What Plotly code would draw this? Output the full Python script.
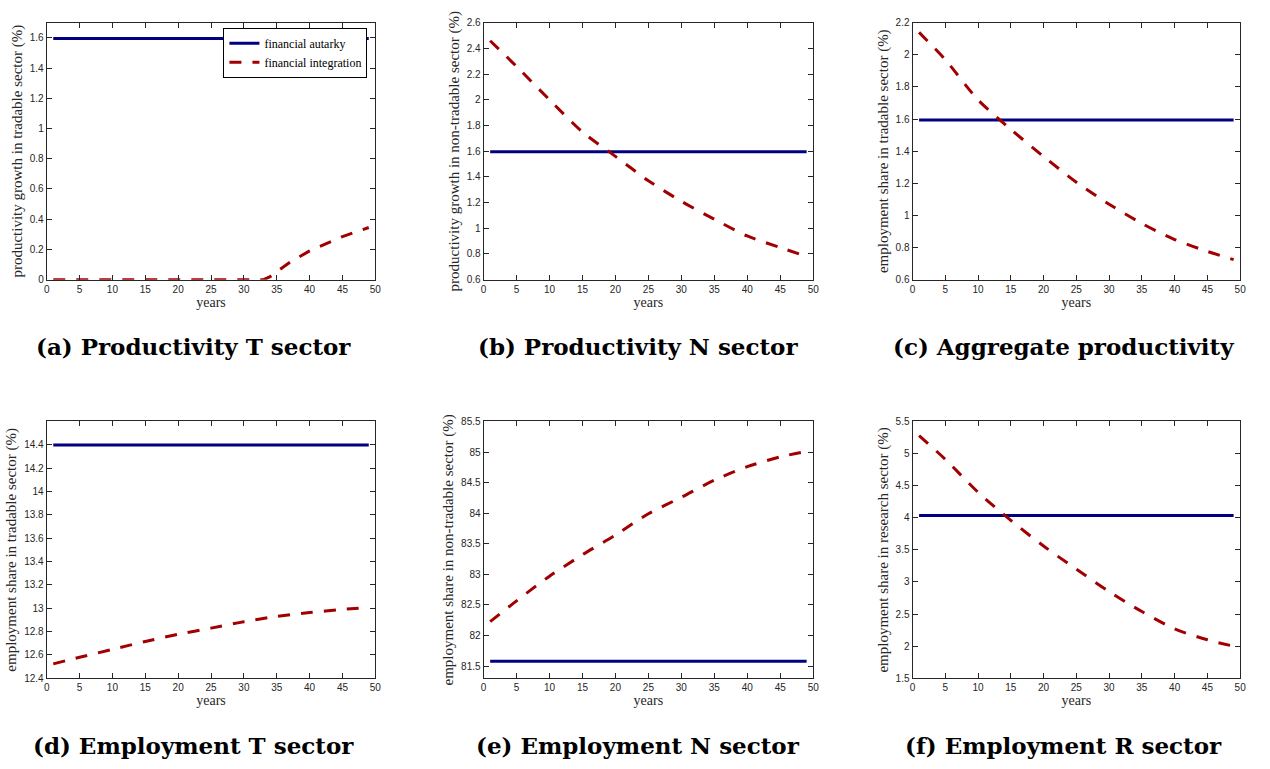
import plotly.graph_objects as go

W, H = 1270, 769

# ---------------- data ----------------
years_a = [1, 5, 10, 15, 20, 25, 30, 33, 34, 35, 37, 40, 43, 45, 47, 49]
integ_a = [0, 0, 0, 0, 0, 0, 0, 0, 0.02, 0.05, 0.115, 0.19, 0.25, 0.285, 0.315, 0.345]

years = [1, 5, 10, 15, 20, 25, 30, 35, 40, 45, 49]
integ_b = [2.46, 2.26, 2.00, 1.75, 1.56, 1.37, 1.21, 1.07, 0.94, 0.85, 0.78]
integ_c = [2.14, 1.97, 1.72, 1.536, 1.367, 1.207, 1.07, 0.95, 0.85, 0.776, 0.725]
integ_d = [12.524, 12.58, 12.648, 12.716, 12.777, 12.83, 12.885, 12.93, 12.963, 12.99, 13.006]
integ_e = [82.227, 82.566, 82.97, 83.32, 83.643, 83.99, 84.26, 84.54, 84.76, 84.92, 85.01]
integ_f = [5.28, 4.91, 4.397, 3.96, 3.56, 3.2, 2.85, 2.54, 2.27, 2.10, 2.0]

autarky_years = [1, 49]
autarky_a = 1.595
autarky_b = 1.595
autarky_c = 1.595
autarky_d = 14.397
autarky_e = 81.58
autarky_f = 4.035

ylabels = [
    "productivity growth in tradable sector (%)",
    "productivity growth in non-tradable sector (%)",
    "employment share in tradable sector (%)",
    "employment share in tradable sector (%)",
    "employment share in non-tradable sector (%)",
    "employment share in research sector (%)",
]
captions = [
    "(a) Productivity T sector",
    "(b) Productivity N sector",
    "(c) Aggregate productivity",
    "(d) Employment T sector",
    "(e) Employment N sector",
    "(f) Employment R sector",
]
yranges = [(0, 1.7), (0.6, 2.6), (0.6, 2.2), (12.4, 14.6), (81.3, 85.5), (1.5, 5.5)]
yticks = [
    [0, 0.2, 0.4, 0.6, 0.8, 1, 1.2, 1.4, 1.6],
    [0.6, 0.8, 1, 1.2, 1.4, 1.6, 1.8, 2, 2.2, 2.4, 2.6],
    [0.6, 0.8, 1, 1.2, 1.4, 1.6, 1.8, 2, 2.2],
    [12.4, 12.6, 12.8, 13, 13.2, 13.4, 13.6, 13.8, 14, 14.2, 14.4],
    [81.5, 82, 82.5, 83, 83.5, 84, 84.5, 85, 85.5],
    [1.5, 2, 2.5, 3, 3.5, 4, 4.5, 5, 5.5],
]
xticks = [0, 5, 10, 15, 20, 25, 30, 35, 40, 45, 50]

series_x = [years_a, years, years, years, years, years]
series_y = [integ_a, integ_b, integ_c, integ_d, integ_e, integ_f]
aut_vals = [autarky_a, autarky_b, autarky_c, autarky_d, autarky_e, autarky_f]
shapes_line = ["linear", "spline", "spline", "spline", "spline", "spline"]

# ---------------- layout geometry (pixels) ----------------
cols = [(44, 375), (484, 816), (916, 1246)]
rows = [(17, 278), (422, 683)]
cap_x = [192, 640, 1068]
cap_y = [346, 751]

NAVY = "rgb(0,0,128)"
RED = "rgb(162,0,0)"
AX = "#262626"
SERIF = "Liberation Serif"

fig = go.Figure()
layout = dict(
    width=W, height=H, margin=dict(l=0, r=0, t=0, b=0),
    paper_bgcolor="white", plot_bgcolor="white",
    showlegend=True,
    legend=dict(x=222 / W, y=1 - 22 / H, xref="paper", yref="paper",
                xanchor="left", yanchor="top",
                bgcolor="white", bordercolor="black", borderwidth=1,
                font=dict(family=SERIF, size=12, color="black"),
                tracegroupgap=0, itemwidth=30),
)
annotations = []
for i in range(6):
    r, c = divmod(i, 3)
    x0, x1 = cols[c]
    y0, y1 = rows[r]
    n = i + 1
    xa = "x" if n == 1 else f"x{n}"
    ya = "y" if n == 1 else f"y{n}"
    axis_common = dict(showline=True, linecolor=AX, linewidth=1, mirror="allticks",
                       ticks="inside", ticklen=5, tickcolor=AX, showgrid=False,
                       zeroline=False,
                       tickfont=dict(family="Liberation Sans", size=10, color=AX))
    layout["xaxis" if n == 1 else f"xaxis{n}"] = dict(
        domain=[x0 / W, x1 / W], anchor=ya, range=[0, 50],
        tickmode="array", tickvals=xticks, ticktext=[f"{v:g}" for v in xticks],
        title=dict(text="years", font=dict(family=SERIF, size=14, color=AX), standoff=2),
        **axis_common)
    layout["yaxis" if n == 1 else f"yaxis{n}"] = dict(
        domain=[1 - y1 / H, 1 - y0 / H], anchor=xa, range=list(yranges[i]),
        tickmode="array", tickvals=yticks[i], ticktext=[f"{v:g}" for v in yticks[i]],
        title=dict(text=ylabels[i], font=dict(family=SERIF, size=15, color=AX), standoff=3),
        **axis_common)
    fig.add_trace(go.Scatter(
        x=autarky_years, y=[aut_vals[i]] * len(autarky_years), mode="lines",
        line=dict(color=NAVY, width=3), name="financial autarky",
        showlegend=(i == 0), xaxis=xa, yaxis=ya))
    fig.add_trace(go.Scatter(
        x=series_x[i], y=series_y[i], mode="lines",
        line=dict(color=RED, width=3, dash="12px,11px", shape=shapes_line[i], smoothing=0.8),
        name="financial integration",
        showlegend=(i == 0), xaxis=xa, yaxis=ya))
    annotations.append(dict(
        text="<b>" + captions[i] + "</b>", x=cap_x[c] / W, y=1 - cap_y[r] / H,
        xref="paper", yref="paper", xanchor="center", yanchor="middle", showarrow=False,
        font=dict(family="DejaVu Serif", size=23, color="black")))

layout["annotations"] = annotations
fig.update_layout(**layout)
fig.write_html("out.html")
